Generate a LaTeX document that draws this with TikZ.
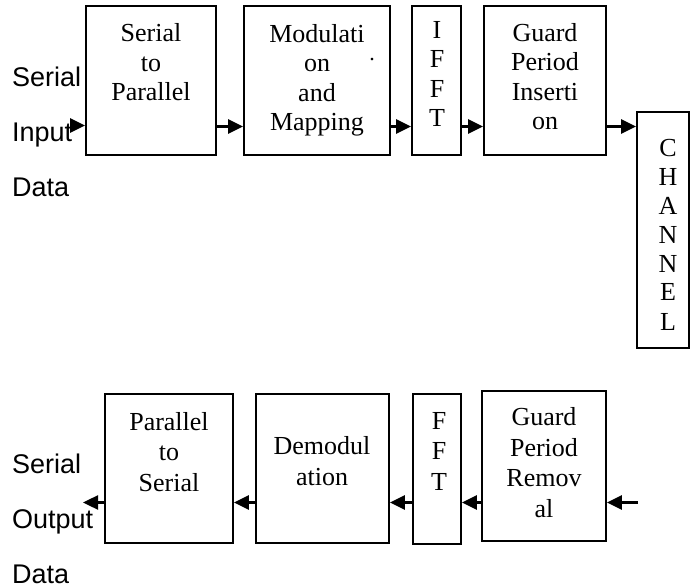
\documentclass[tikz,border=0pt]{standalone}
\usepackage{fontspec}
\setmainfont{Liberation Serif}
\setsansfont{Liberation Sans}
\usetikzlibrary{arrows.meta}
\tikzset{
  blk/.style={draw=black, line width=1.8pt, rectangle, inner sep=0pt},
  blktxt/.style={anchor=base, align=center, inner sep=0pt, font=\fontsize{26}{29.5}\selectfont},
  blktxtb/.style={anchor=base, align=center, inner sep=0pt, font=\fontsize{26}{30.5}\selectfont},
  sidetxt/.style={anchor=base west, align=left, inner sep=0pt, font=\sffamily\fontsize{27}{55}\selectfont},
  arr/.style={line width=2.4pt, -{Triangle[length=15pt,width=14pt]}}
}
\begin{document}
\begin{tikzpicture}[x=1pt,y=-1pt]
\useasboundingbox (0,0) rectangle (691,588);
% top row boxes
\node[blk, minimum width=130pt, minimum height=149pt] (s2p) at (151,80.5) {};
\node[blk, minimum width=146pt, minimum height=149pt] (mod) at (317,80.5) {};
\node[blk, minimum width=49pt, minimum height=149pt] (ifft) at (436.5,80.5) {};
\node[blk, minimum width=122pt, minimum height=149pt] (gpi) at (545,80.5) {};
\node[blk, minimum width=52pt, minimum height=236pt] (chan) at (663,230) {};
% bottom row boxes
\node[blk, minimum width=128pt, minimum height=149pt] (p2s) at (169,468.5) {};
\node[blk, minimum width=133pt, minimum height=149pt] (demod) at (322.5,468.5) {};
\node[blk, minimum width=48pt, minimum height=150pt] (fft) at (437,469) {};
\node[blk, minimum width=124pt, minimum height=150pt] (gpr) at (544,466) {};
% texts (anchor = baseline of last line)
\node[blktxt] (s2pt) at (151,101) {Serial\\to\\Parallel};
\node[blktxt] (modt) at (317,131) {Modulati\\on\\and\\Mapping};
\node[anchor=base, inner sep=0pt, font=\fontsize{22}{22}\selectfont] (dot) at (372,61) {.};
\node[blktxt] (ifftt) at (437,127) {I\\F\\F\\T};
\node[blktxt] (gpit) at (545,130) {Guard\\Period\\Inserti\\on};
\node[blktxt, font=\fontsize{26}{29}\selectfont] (chant) at (668,330) {C\\H\\A\\N\\N\\E\\L};
\node[blktxtb] (p2st) at (169,491) {Parallel\\to\\Serial};
\node[blktxtb] (demodt) at (322,485) {Demodul\\ation};
\node[blktxtb] (fftt) at (439,490) {F\\F\\T};
\node[blktxtb] (gprt) at (544,517) {Guard\\Period\\Remov\\al};
\node[sidetxt] (inlbl) at (12,197) {Serial\\Input\\Data};
\node[sidetxt] (outlbl) at (12,583) {Serial\\Output\\Data};
% row levels
\coordinate (toprow) at (0,126.5);
\coordinate (botrow) at (0,502.5);
\coordinate (inS) at (70,125.5);
\coordinate (inR) at (638,502.5);
\coordinate (outL) at (83,502.5);
% top arrows
\draw[arr] (inS) -- (s2p.west |- inS);
\draw[arr] (s2p.east |- toprow) -- (mod.west |- toprow);
\draw[arr] (mod.east |- toprow) -- (ifft.west |- toprow);
\draw[arr] (ifft.east |- toprow) -- (gpi.west |- toprow);
\draw[arr] (gpi.east |- toprow) -- (chan.west |- toprow);
% bottom arrows
\draw[arr] (inR) -- (gpr.east |- inR);
\draw[arr] (gpr.west |- botrow) -- (fft.east |- botrow);
\draw[arr] (fft.west |- botrow) -- (demod.east |- botrow);
\draw[arr] (demod.west |- botrow) -- (p2s.east |- botrow);
\draw[arr] (p2s.west |- botrow) -- (outL);
\end{tikzpicture}
\end{document}
